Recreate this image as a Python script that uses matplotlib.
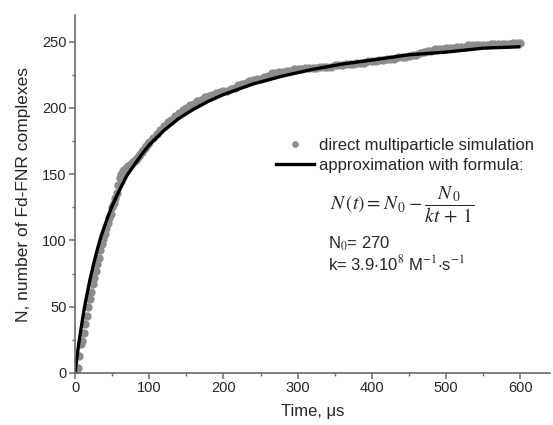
import matplotlib
matplotlib.use("Agg")
import matplotlib.pyplot as plt
from matplotlib.ticker import MultipleLocator

# --- Daten ---

# direkte Vielteilchen-Simulation: bis 100 us alle 2 us, danach alle 5 us
t_sim = list(range(0, 100, 2)) + list(range(100, 601, 5))
n_sim = [0, 0, 4, 13, 22, 24, 30, 37, 43, 50,
         56, 61, 67, 72, 77, 82, 87, 93, 97, 101,
         105, 109, 113, 117, 120, 125, 128, 132, 136, 142,
         147, 150, 152, 153, 154, 155, 156, 157, 158, 159,
         160, 161, 162, 164, 165, 167, 168, 170, 171, 173,
         174, 177, 180, 183, 186, 189, 191, 194, 196, 198,
         200, 202, 203, 205, 206, 208, 209, 210, 211, 212,
         213, 213, 214, 215, 217, 218, 219, 220, 221, 222,
         222, 223, 224, 226, 226, 227, 227, 228, 228, 229,
         229, 229, 230, 230, 230, 230, 231, 231, 231, 231,
         232, 232, 232, 233, 233, 233, 234, 234, 234, 235,
         235, 235, 236, 236, 237, 237, 237, 238, 238, 238,
         239, 240, 240, 241, 242, 243, 243, 244, 244, 244,
         245, 245, 245, 246, 246, 246, 247, 247, 247, 247,
         247, 247, 248, 248, 248, 248, 248, 248, 249, 249, 249]

# Näherungskurve (schwarze Linie)
t_fit = [0, 2, 5, 8, 10, 12, 15, 20, 25, 30, 35, 40, 45, 50, 60, 70, 80, 90,
         100, 120, 140, 160, 180, 200, 240, 280, 320, 360, 400, 450, 500, 550, 598]
n_fit = [0, 9, 22, 33, 40, 47, 56, 70, 82, 93, 103, 111, 119, 126, 138, 149, 157, 165,
         172, 183, 192, 199, 205, 210, 218, 224, 229, 233, 236, 240, 242, 245, 246]

x_ticks = [0, 100, 200, 300, 400, 500, 600]
y_ticks = [0, 50, 100, 150, 200, 250]

# --- Plot ---

plt.rcParams['font.family'] = ['Liberation Sans', 'DejaVu Sans']
plt.rcParams['mathtext.fontset'] = 'stix'

text_col = '#262626'
axis_col = '#6a6a6a'

fig = plt.figure(figsize=(5.53, 4.25), dpi=100)
ax = fig.add_axes([75 / 553, 1 - 373 / 425, 475 / 553, 358 / 425])

ax.plot(t_sim, n_sim, 'o', color='#8c8c8c', markersize=6, markeredgewidth=0,
        label='direct multiparticle simulation')
ax.plot(t_fit, n_fit, '-', color='black', linewidth=2.4,
        label='approximation with formula:')

ax.set_xlim(0, 640)
ax.set_ylim(0, 270)
ax.set_xticks(x_ticks)
ax.set_yticks(y_ticks)
ax.xaxis.set_minor_locator(MultipleLocator(50))
ax.yaxis.set_minor_locator(MultipleLocator(25))

for s in ['top', 'right']:
    ax.spines[s].set_visible(False)
for s in ['left', 'bottom']:
    ax.spines[s].set_color(axis_col)
    ax.spines[s].set_linewidth(1.2)

ax.tick_params(which='major', direction='out', length=4, width=1.1,
               color=axis_col, labelsize=10.5, labelcolor=text_col, pad=2)
ax.tick_params(which='minor', direction='out', length=2.5, width=1.0, color=axis_col)

ax.set_xlabel('Time, \u03bcs', fontsize=12, color=text_col, labelpad=6)
ax.set_ylabel('N, number of Fd-FNR complexes', fontsize=12.5, color=text_col, labelpad=8)

leg = ax.legend(loc='upper left', bbox_to_anchor=(276 / 553, 1 - 138 / 425),
                bbox_transform=fig.transFigure, frameon=False, fontsize=12,
                handlelength=2.3, handletextpad=0.3, labelspacing=0.3,
                borderpad=0, borderaxespad=0, markerscale=0.8)
for t in leg.get_texts():
    t.set_color(text_col)

fig.text(330 / 553, 1 - 205 / 425,
         r'$N\,(t) = N_{\,0} - \dfrac{N_{\,0}}{kt\, +\, 1}$',
         fontsize=14, color=text_col, va='center', ha='left')
fig.text(328 / 553, 1 - 244 / 425, r'N$_0$= 270', fontsize=12,
         color=text_col, va='center', ha='left')
fig.text(328 / 553, 1 - 263 / 425,
         r'k= 3.9$\cdot$10$^8$ M$^{-1}$$\cdot$s$^{-1}$', fontsize=12,
         color=text_col, va='center', ha='left')

fig.savefig('out.png', dpi=100)
